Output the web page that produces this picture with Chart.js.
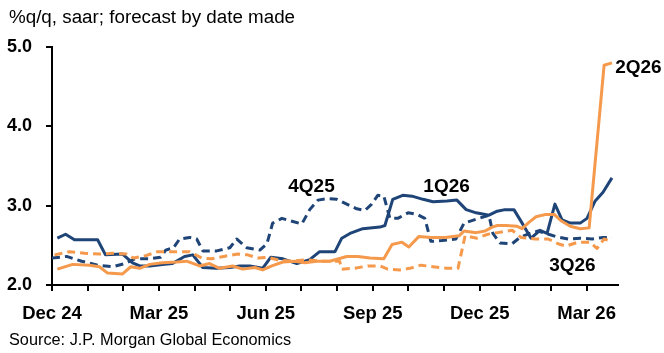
<!DOCTYPE html>
<html>
<head>
<meta charset="utf-8">
<script src="https://cdn.jsdelivr.net/npm/chart.js@4.4.1/dist/chart.umd.min.js"></script>
<style>
html,body{margin:0;padding:0;background:#fff;}
#wrap{position:relative;width:664px;height:353px;}
canvas{display:block;}
</style>
</head>
<body>
<div id="wrap"><canvas id="c" width="664" height="353"></canvas></div>
<script>
// x values: months since 1 Dec 2024 (0 = Dec 24, 15 = Mar 26)
const xTickLabels = ['Dec 24','','','Mar 25','','','Jun 25','','','Sep 25','','','Dec 25','','','Mar 26'];
const yTickValues = [2, 3, 4, 5];

const q4_25_x = [0.0,0.41,0.83,1.28,1.70,2.04,2.32,2.74,3.05,3.19,3.41,3.58,3.86,4.06,4.23,4.62,4.99,5.18,5.46,5.83,6.03,6.19,6.45,6.76,7.01,7.23,7.46,7.74,7.99,8.27,8.55,8.78,8.97,9.14,9.31,9.48,9.70,9.99,10.24,10.46,10.63,10.94,11.33,11.56,11.90,12.26,12.37,12.57,12.91,13.13,13.41,13.64,13.86,14.14,14.48,14.82,15.15,15.46,15.71];
const q4_25_y = [2.34,2.36,2.30,2.25,2.23,2.27,2.33,2.33,2.35,2.44,2.47,2.58,2.60,2.58,2.43,2.43,2.47,2.58,2.47,2.44,2.52,2.78,2.84,2.80,2.77,2.95,3.07,3.09,3.08,3.02,2.96,2.94,3.02,3.13,3.12,2.84,2.84,2.91,2.89,2.84,2.55,2.56,2.58,2.78,2.83,2.88,2.65,2.53,2.52,2.60,2.65,2.68,2.65,2.61,2.58,2.59,2.58,2.60,2.60];

const q1_26_x = [0.15,0.38,0.63,1.28,1.50,1.98,2.26,2.46,2.74,3.16,3.38,3.72,3.95,4.23,4.62,4.99,5.27,5.55,5.91,6.14,6.48,6.87,7.23,7.51,7.94,8.13,8.36,8.72,9.20,9.34,9.56,9.84,10.10,10.41,10.69,11.08,11.36,11.62,11.90,12.26,12.49,12.71,12.96,13.19,13.44,13.69,13.89,14.11,14.31,14.54,14.82,15.01,15.24,15.46,15.71];
const q1_26_y = [2.59,2.64,2.57,2.57,2.38,2.39,2.28,2.24,2.24,2.26,2.27,2.36,2.38,2.22,2.21,2.22,2.24,2.24,2.21,2.35,2.33,2.27,2.32,2.42,2.42,2.59,2.65,2.71,2.73,2.75,3.08,3.13,3.12,3.08,3.05,3.06,3.07,2.95,2.91,2.88,2.93,2.95,2.95,2.78,2.59,2.69,2.65,3.02,2.82,2.78,2.78,2.84,3.06,3.17,3.35];

const q2_26_x = [0.15,0.58,1.05,1.33,1.56,1.98,2.21,2.46,2.74,3.10,3.50,3.78,4.14,4.42,4.70,5.07,5.35,5.69,5.91,6.17,6.48,6.81,7.09,7.43,7.79,8.27,8.58,8.92,9.31,9.54,9.82,10.01,10.29,10.63,11.03,11.42,11.56,11.90,12.15,12.35,12.49,12.74,13.05,13.19,13.38,13.58,13.86,14.09,14.28,14.54,14.82,15.07,15.49,15.71];
const q2_26_y = [2.20,2.26,2.25,2.23,2.15,2.14,2.23,2.21,2.26,2.28,2.29,2.30,2.24,2.27,2.21,2.24,2.20,2.22,2.19,2.24,2.29,2.30,2.28,2.30,2.30,2.36,2.36,2.34,2.33,2.51,2.54,2.48,2.61,2.60,2.60,2.62,2.68,2.66,2.68,2.73,2.75,2.75,2.74,2.71,2.79,2.86,2.89,2.89,2.81,2.74,2.71,2.72,4.77,4.80];

const q3_26_x = [0.07,0.49,0.91,1.33,1.70,2.09,2.29,2.63,2.96,3.44,3.86,4.20,4.48,4.82,5.21,5.49,5.77,6.05,6.39,6.76,7.15,7.51,8.07,8.13,8.47,8.87,9.20,9.42,9.76,10.04,10.35,10.69,11.08,11.39,11.59,11.92,12.23,12.51,12.91,13.16,13.55,13.92,14.20,14.42,14.76,15.10,15.29,15.49,15.71];
const q3_26_y = [2.38,2.42,2.40,2.39,2.40,2.39,2.34,2.37,2.42,2.42,2.42,2.34,2.33,2.36,2.39,2.38,2.34,2.35,2.31,2.30,2.32,2.30,2.30,2.20,2.21,2.24,2.24,2.20,2.19,2.21,2.25,2.23,2.21,2.21,2.62,2.59,2.64,2.66,2.69,2.60,2.58,2.58,2.52,2.49,2.54,2.54,2.46,2.58,2.55];

// series labels: text, x (months), y (value), alignment
const seriesLabels = [
  {text:'4Q25', x:7.28, y:3.24, align:'center'},
  {text:'1Q26', x:11.07, y:3.24, align:'center'},
  {text:'2Q26', x:15.80, y:4.74, align:'left'},
  {text:'3Q26', x:14.60, y:2.24, align:'center'}
];

const NAVY = '#1f4477';
const ORANGE = '#f59a4c';
const FONT = "'Liberation Sans', Arial, sans-serif";

function pts(xs, ys){ return xs.map((x,i)=>({x:x, y:ys[i]})); }

const textPlugin = {
  id:'texts',
  afterDraw(chart){
    const ctx = chart.ctx;
    const xs = chart.scales.x, ys = chart.scales.y;
    ctx.save();
    ctx.fillStyle = '#000';
    ctx.textBaseline = 'middle';
    ctx.font = 'bold 19px ' + FONT;
    seriesLabels.forEach(l=>{
      ctx.textAlign = l.align;
      ctx.fillText(l.text, xs.getPixelForValue(l.x), ys.getPixelForValue(l.y));
    });
    ctx.textAlign = 'left';
    ctx.font = '18.8px ' + FONT;
    ctx.fillText('%q/q, saar; forecast by date made', 9, 18);
    ctx.font = '16.3px ' + FONT;
    ctx.fillText('Source: J.P. Morgan Global Economics', 9, 341);
    ctx.restore();
  }
};

const lineDs = (label, xs, ys, color, dashed) => ({
  label, data: pts(xs, ys), borderColor: color, backgroundColor: color,
  borderWidth: 3, pointRadius: 0, tension: 0, fill: false,
  borderDash: dashed ? [8,5] : [], borderCapStyle:'butt', borderJoinStyle:'round'
});

new Chart(document.getElementById('c'), {
  type: 'line',
  data: {
    datasets: [
      lineDs('3Q26', q3_26_x, q3_26_y, ORANGE, true),
      lineDs('2Q26', q2_26_x, q2_26_y, ORANGE, false),
      lineDs('4Q25', q4_25_x, q4_25_y, NAVY, true),
      lineDs('1Q26', q1_26_x, q1_26_y, NAVY, false)
    ]
  },
  options: {
    responsive: false,
    animation: false,
    devicePixelRatio: 1,
    layout: { padding: { top: 47, right: 46, bottom: 0, left: 0 } },
    plugins: { legend: { display: false }, tooltip: { enabled: false }, title: {display:false} },
    scales: {
      x: {
        type: 'linear', min: 0, max: 15.88,
        afterFit(s){ s.height = 68; },
        afterBuildTicks(s){ s.ticks = xTickLabels.map((_,i)=>({value:i})); },
        ticks: {
          autoSkip: false, maxRotation: 0, padding: 12,
          color: '#000', font: { family: FONT, size: 18.5, weight: 'bold' },
          callback: (v) => xTickLabels[Math.round(v)] ?? ''
        },
        grid: { drawOnChartArea: false, drawTicks: true, tickLength: 6, color: '#000', lineWidth: 2 },
        border: { display: true, color: '#000', width: 2 }
      },
      y: {
        type: 'linear', min: 2, max: 5,
        afterFit(s){ s.width = 52; },
        afterBuildTicks(s){ s.ticks = yTickValues.map(v=>({value:v})); },
        ticks: {
          padding: 14, color: '#000', font: { family: FONT, size: 18, weight: 'bold' },
          callback: (v) => v.toFixed(1)
        },
        grid: { drawOnChartArea: false, drawTicks: true, tickLength: 6, color: '#000', lineWidth: 2 },
        border: { display: true, color: '#000', width: 2 }
      }
    }
  },
  plugins: [textPlugin]
});
</script>
</body>
</html>
